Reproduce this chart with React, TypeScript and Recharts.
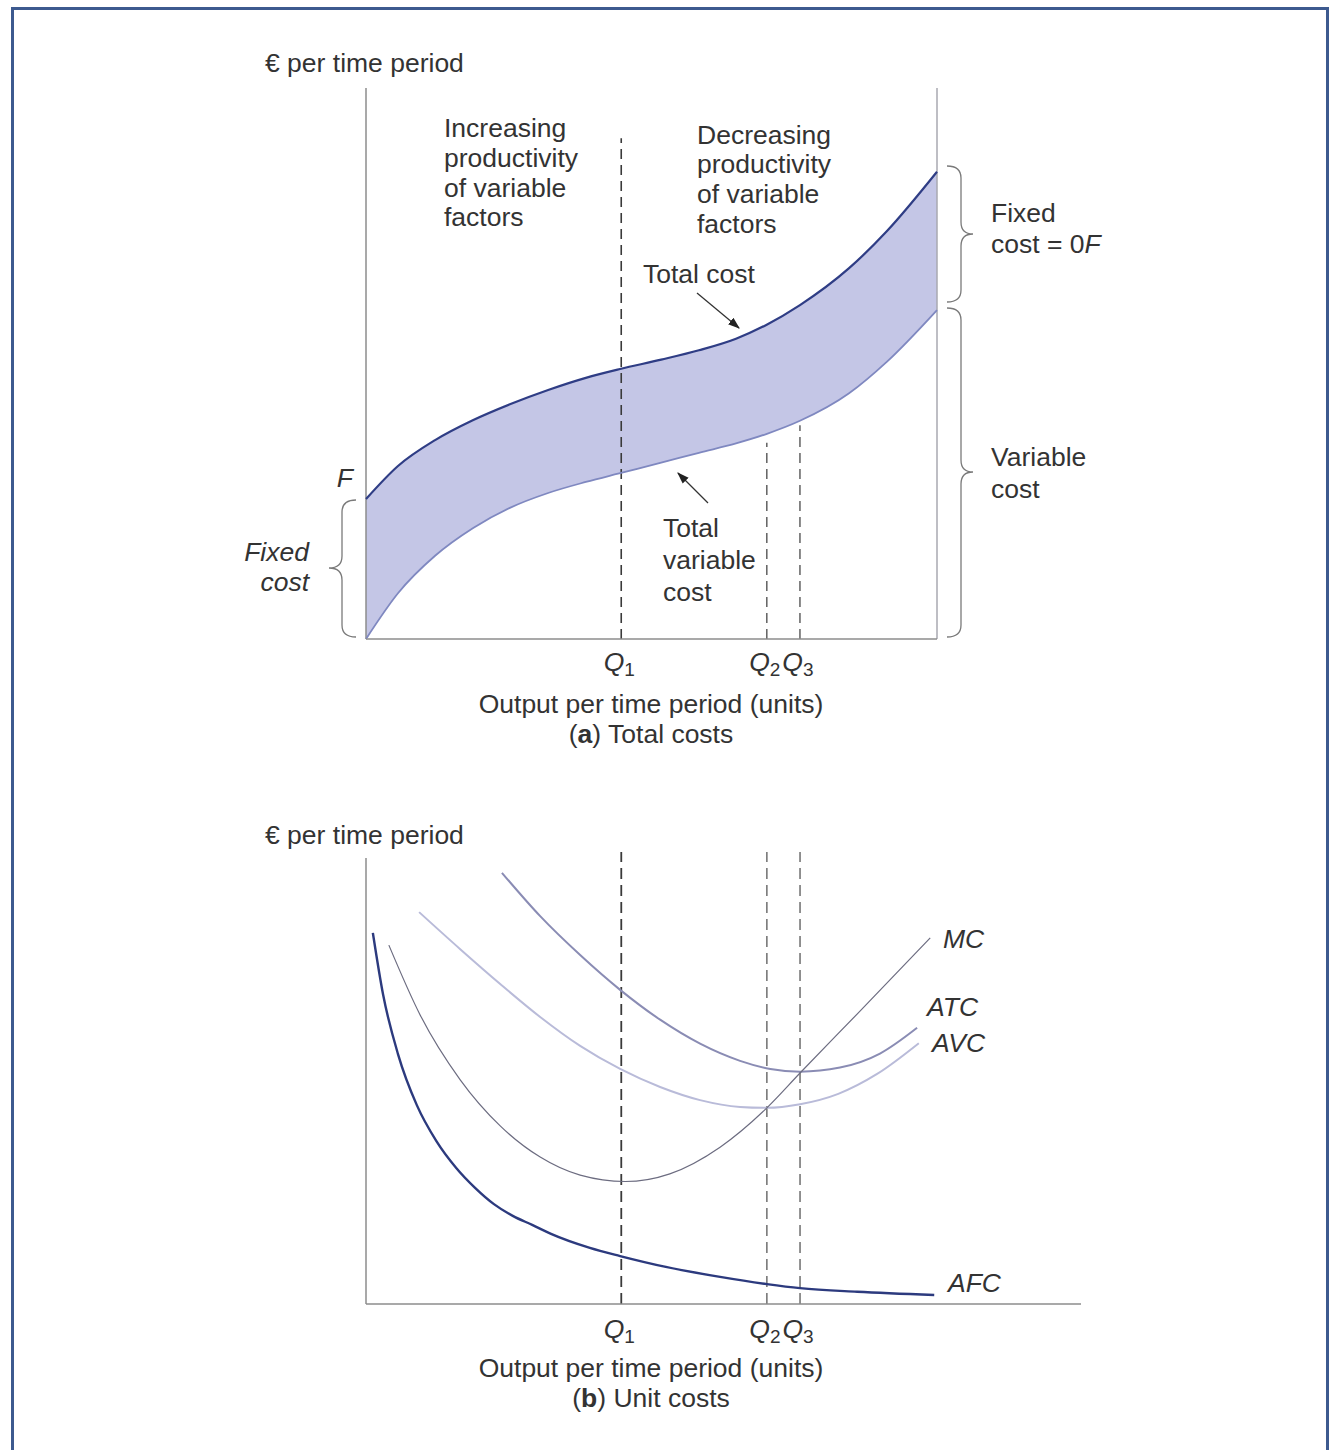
import { ComposedChart, Line, Area, XAxis, YAxis, ReferenceLine } from 'recharts';

const FONT = '"Liberation Sans", Arial, Helvetica, sans-serif';
const FS = 26.5;
const TEXT = '#333';
const AXIS = '#8c8c8c';

// output per time period (same scale in both panels, top panel = 0..100)
const OUTPUT = [0, 5.6, 12.1, 18.7, 25.2, 31.9, 38.5, 44.5, 51.7, 58.3, 64.8, 70.1, 76.0, 84.6, 91.2, 100];
const TOTAL_COST = [25.4, 31.4, 36.1, 39.7, 42.6, 45.2, 47.4, 49.0, 50.7, 52.4, 54.5, 57.0, 60.6, 67.3, 74.0, 84.8];
const TOTAL_VARIABLE_COST = [0, 8.3, 15.1, 20.1, 23.8, 26.5, 28.5, 30.1, 32.0, 33.8, 35.5, 37.2, 39.6, 44.6, 50.3, 59.7];

const Q_TICKS = [44.7, 70.2, 76.0];
const Q_NAMES = ['1', '2', '3'];
const Q1_TOP = 90.9;
const Q2_TOP = 35.6;
const Q3_TOP = 38.8;

// unit costs
const AFC_X = [1.2, 3.0, 5.6, 8.9, 12.3, 15.8, 19.1, 22.4, 25.7, 29.1, 32.4, 39.2, 44.5, 52.5, 62.0, 70.2, 76.0, 86.0, 99.5];
const AFC_Y = [82.1, 68.4, 55.3, 44.0, 36.1, 30.1, 25.7, 22.1, 19.5, 17.5, 15.5, 12.4, 10.6, 8.2, 6.0, 4.4, 3.5, 2.7, 2.0];
const MC_X = [4.0, 9.5, 16.5, 23.5, 30.5, 37.5, 45.4, 53.2, 62.0, 70.2, 76.0, 86.5, 98.8];
const MC_Y = [79.4, 63.9, 49.6, 39.4, 32.5, 28.5, 27.1, 28.8, 34.7, 43.4, 51.1, 64.8, 81.0];
const AVC_X = [9.3, 16.5, 23.5, 30.5, 37.5, 44.5, 51.5, 58.5, 65.5, 70.2, 76.0, 82.7, 89.5, 96.8];
const AVC_Y = [86.7, 78.5, 70.8, 63.5, 57.1, 52.0, 48.0, 45.1, 43.6, 43.4, 44.2, 46.5, 50.9, 57.7];
const ATC_X = [23.8, 30.5, 37.5, 44.5, 51.5, 58.5, 65.5, 70.8, 76.0, 83.0, 90.0, 96.5];
const ATC_Y = [95.4, 85.8, 77.2, 69.5, 62.9, 57.6, 53.8, 52.0, 51.4, 52.3, 55.4, 61.1];

const zip = (xs: number[], ys: number[]) => xs.map((x, i) => ({ x, y: ys[i] }));

const totalRows = OUTPUT.map((x, i) => ({
  x,
  tc: TOTAL_COST[i],
  tvc: TOTAL_VARIABLE_COST[i],
  band: [TOTAL_VARIABLE_COST[i], TOTAL_COST[i]],
}));

function makeTick(dy: number) {
  return (props: any) => {
    const { x, y, payload } = props;
    const i = Q_TICKS.indexOf(payload.value);
    return (
      <text x={x - 2} y={y + dy} textAnchor="middle" fontFamily={FONT} fontSize={FS} fill={TEXT}>
        <tspan fontStyle="italic">Q</tspan>
        <tspan fontSize={19} dy={5}>{Q_NAMES[i]}</tspan>
      </text>
    );
  };
}

function TotalCosts() {
  return (
    <div style={{ position: 'absolute', left: 0, top: 0 }}>
      <ComposedChart
        width={1329}
        height={760}
        data={totalRows}
        margin={{ top: 88, right: 392, bottom: 81, left: 366 }}
      >
        <XAxis
          dataKey="x"
          type="number"
          domain={[0, 100]}
          ticks={Q_TICKS}
          tick={makeTick(32)}
          tickLine={false}
          tickSize={0}
          tickMargin={0}
          height={40}
          axisLine={{ stroke: AXIS, strokeWidth: 1.5 }}
          interval={0}
        />
        <YAxis hide domain={[0, 100]} type="number" />
        <Area
          dataKey="band"
          type="monotone"
          fill="#c4c6e6"
          fillOpacity={1}
          stroke="none"
          isAnimationActive={false}
        />
        <ReferenceLine x={0} stroke={AXIS} strokeWidth={1.5} />
        <ReferenceLine x={100} stroke="#a8a8b0" strokeWidth={1.5} />
        <ReferenceLine
          segment={[{ x: Q_TICKS[0], y: 0 }, { x: Q_TICKS[0], y: Q1_TOP }]}
          stroke="#3a3a3a"
          strokeWidth={1.6}
          strokeDasharray="10 6"
        />
        <ReferenceLine
          segment={[{ x: Q_TICKS[1], y: 0 }, { x: Q_TICKS[1], y: Q2_TOP }]}
          stroke="#3a3a3a"
          strokeWidth={1.2}
          strokeDasharray="10 6"
        />
        <ReferenceLine
          segment={[{ x: Q_TICKS[2], y: 0 }, { x: Q_TICKS[2], y: Q3_TOP }]}
          stroke="#3a3a3a"
          strokeWidth={1.2}
          strokeDasharray="10 6"
        />
        <Line dataKey="tvc" type="monotone" stroke="#7f88c0" strokeWidth={1.8} dot={false} isAnimationActive={false} />
        <Line dataKey="tc" type="monotone" stroke="#2f3d85" strokeWidth={2.2} dot={false} isAnimationActive={false} />
      </ComposedChart>
    </div>
  );
}

function UnitCosts() {
  return (
    <div style={{ position: 'absolute', left: 0, top: 760 }}>
      <ComposedChart
        width={1329}
        height={690}
        margin={{ top: 92, right: 248, bottom: 106, left: 366 }}
      >
        <XAxis
          dataKey="x"
          type="number"
          domain={[0, 125.2]}
          allowDataOverflow
          ticks={Q_TICKS}
          tick={makeTick(34)}
          tickLine={false}
          tickSize={0}
          tickMargin={0}
          height={40}
          axisLine={{ stroke: AXIS, strokeWidth: 1.5 }}
          interval={0}
        />
        <YAxis hide domain={[0, 100]} type="number" />
        <ReferenceLine segment={[{ x: 0, y: 0 }, { x: 0, y: 98.7 }]} stroke={AXIS} strokeWidth={1.5} />
        <ReferenceLine
          segment={[{ x: Q_TICKS[0], y: 0 }, { x: Q_TICKS[0], y: 100 }]}
          stroke="#3a3a3a"
          strokeWidth={1.8}
          strokeDasharray="11 6"
        />
        <ReferenceLine
          segment={[{ x: Q_TICKS[1], y: 0 }, { x: Q_TICKS[1], y: 100 }]}
          stroke="#3a3a3a"
          strokeWidth={1.1}
          strokeDasharray="11 6"
        />
        <ReferenceLine
          segment={[{ x: Q_TICKS[2], y: 0 }, { x: Q_TICKS[2], y: 100 }]}
          stroke="#3a3a3a"
          strokeWidth={1.1}
          strokeDasharray="11 6"
        />
        <Line data={zip(AVC_X, AVC_Y)} dataKey="y" type="monotone" stroke="#b9bbd9" strokeWidth={2} dot={false} isAnimationActive={false} />
        <Line data={zip(ATC_X, ATC_Y)} dataKey="y" type="monotone" stroke="#8a8cb4" strokeWidth={2} dot={false} isAnimationActive={false} />
        <Line data={zip(MC_X, MC_Y)} dataKey="y" type="monotone" stroke="#6c6c80" strokeWidth={1.2} dot={false} isAnimationActive={false} />
        <Line data={zip(AFC_X, AFC_Y)} dataKey="y" type="monotone" stroke="#2c3a7e" strokeWidth={2.4} dot={false} isAnimationActive={false} />
      </ComposedChart>
    </div>
  );
}

function T({ x, y, children, italic, anchor }: any) {
  return (
    <text
      x={x}
      y={y + 9}
      fontFamily={FONT}
      fontSize={FS}
      fill={TEXT}
      fontStyle={italic ? 'italic' : 'normal'}
      textAnchor={anchor || 'start'}
    >
      {children}
    </text>
  );
}

function Annotations() {
  const brace = { fill: 'none', stroke: '#7a7a7a', strokeWidth: 1.3 };
  return (
    <svg
      width={1329}
      height={1450}
      style={{ position: 'absolute', left: 0, top: 0, pointerEvents: 'none' }}
    >
      <defs>
        <marker id="ah" viewBox="0 0 10 10" refX="9" refY="5" markerWidth="12" markerHeight="12" markerUnits="userSpaceOnUse" orient="auto">
          <path d="M0,1.5 L10,5 L0,8.5 Z" fill="#222" />
        </marker>
      </defs>

      <T x={265} y={63}>€ per time period</T>
      <T x={444} y={128}>Increasing</T>
      <T x={444} y={158}>productivity</T>
      <T x={444} y={188}>of variable</T>
      <T x={444} y={217}>factors</T>
      <T x={697} y={135}>Decreasing</T>
      <T x={697} y={164}>productivity</T>
      <T x={697} y={194}>of variable</T>
      <T x={697} y={224}>factors</T>
      <T x={643} y={274}>Total cost</T>
      <T x={663} y={528}>Total</T>
      <T x={663} y={560}>variable</T>
      <T x={663} y={592}>cost</T>
      <T x={353} y={478} italic anchor="end">F</T>
      <T x={309} y={552} italic anchor="end">Fixed</T>
      <T x={309} y={582} italic anchor="end">cost</T>
      <T x={991} y={213}>Fixed</T>
      <text x={991} y={253} fontFamily={FONT} fontSize={FS} fill={TEXT}>
        cost = 0<tspan fontStyle="italic">F</tspan>
      </text>
      <T x={991} y={457}>Variable</T>
      <T x={991} y={489}>cost</T>
      <T x={651} y={704} anchor="middle">Output per time period (units)</T>
      <text x={651} y={743} textAnchor="middle" fontFamily={FONT} fontSize={FS} fill={TEXT}>
        (<tspan fontWeight="bold">a</tspan>) Total costs
      </text>

      <path d="M356,500 Q342,500 342,512 L342,556 Q342,568 329,568 Q342,568 342,580 L342,625 Q342,637 356,637" {...brace} />
      <path d="M947,166 Q961,166 961,178 L961,222 Q961,234 973,234 Q961,234 961,246 L961,290 Q961,302 947,302" {...brace} />
      <path d="M947,308 Q961,308 961,320 L961,460 Q961,472 973,472 Q961,472 961,484 L961,625 Q961,637 947,637" {...brace} />
      <line x1={697} y1={293} x2={739} y2={328} stroke="#333" strokeWidth={1.3} markerEnd="url(#ah)" />
      <line x1={708} y1={503} x2={678} y2={473} stroke="#333" strokeWidth={1.3} markerEnd="url(#ah)" />

      <T x={265} y={835}>€ per time period</T>
      <T x={943} y={939} italic>MC</T>
      <T x={927} y={1007} italic>ATC</T>
      <T x={932} y={1043} italic>AVC</T>
      <T x={948} y={1283} italic>AFC</T>
      <T x={651} y={1368} anchor="middle">Output per time period (units)</T>
      <text x={651} y={1407} textAnchor="middle" fontFamily={FONT} fontSize={FS} fill={TEXT}>
        (<tspan fontWeight="bold">b</tspan>) Unit costs
      </text>
    </svg>
  );
}

export default function App() {
  return (
    <div
      style={{
        position: 'absolute',
        left: 0,
        top: 0,
        width: 1329,
        height: 1450,
        overflow: 'hidden',
        background: '#fff',
      }}
    >
      <div
        style={{
          position: 'absolute',
          left: 11,
          top: 7,
          width: 1318,
          height: 1500,
          boxSizing: 'border-box',
          border: '3px solid #3d5a8f',
        }}
      />
      <TotalCosts />
      <UnitCosts />
      <Annotations />
    </div>
  );
}
